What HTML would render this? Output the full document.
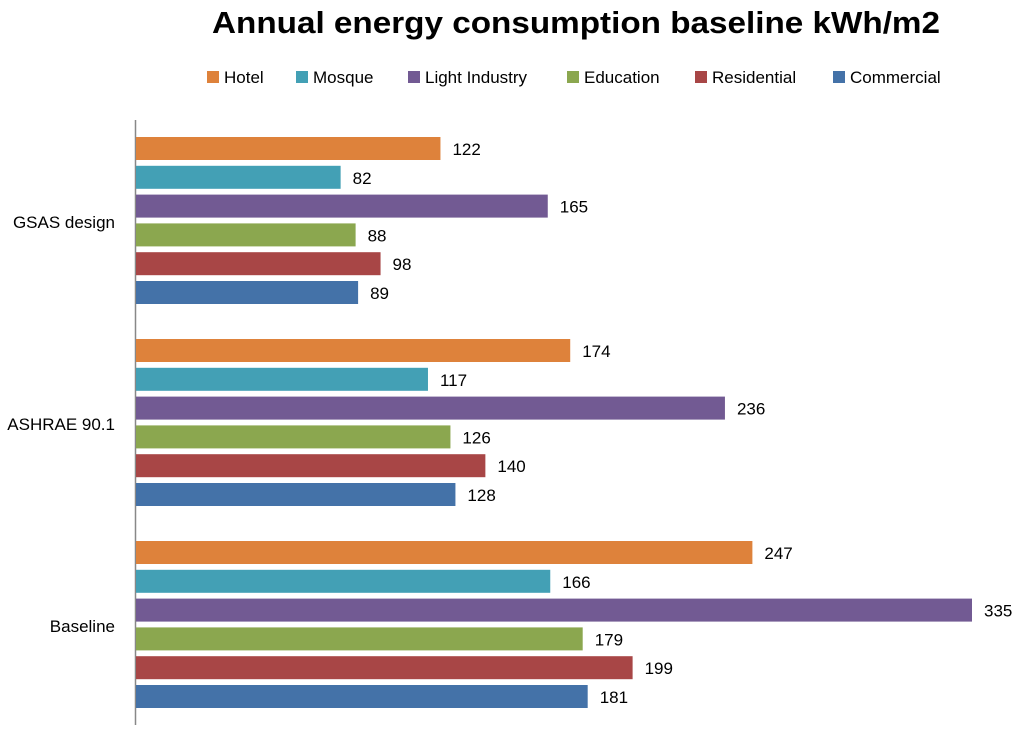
<!DOCTYPE html>
<html><head><meta charset="utf-8"><style>
body{margin:0;background:#fff;width:1024px;height:731px;overflow:hidden}
svg{font-family:"Liberation Sans",sans-serif}
</style></head><body>
<svg id="c" width="1024" height="731">
<text x="576" y="33" text-anchor="middle" font-size="31" font-weight="bold" textLength="728" lengthAdjust="spacingAndGlyphs">Annual energy consumption baseline kWh/m2</text>
<line x1="135.5" y1="120" x2="135.5" y2="725" stroke="#888" stroke-width="1.5"/>
<g id="legend"></g><g id="bars"></g>
</svg>
<script>
const categories = ["GSAS design","ASHRAE 90.1","Baseline"];
const seriesNames = ["Hotel","Mosque","Light Industry","Education","Residential","Commercial"];
const hotel = [122,174,247];
const mosque = [82,117,166];
const lightIndustry = [165,236,335];
const education = [88,126,179];
const residential = [98,140,199];
const commercial = [89,128,181];
const colors = ["#DE823B","#43A0B5","#725A93","#8BA74F","#A84646","#4472A8"];
const series = [hotel,mosque,lightIndustry,education,residential,commercial];
const NS="http://www.w3.org/2000/svg";
const x0=136, scale=(972-136)/335;
const xs=v=>x0+v*scale;
const groupTop=i=>137+i*202;
const barY=(g,s)=>groupTop(g)+s*28.8;
const bars=document.getElementById('bars');
function mk(tag,attrs,parent){const e=document.createElementNS(NS,tag);for(const k in attrs)e.setAttribute(k,attrs[k]);parent.appendChild(e);return e;}
categories.forEach((c,g)=>{
  const t=mk('text',{x:115,y:groupTop(g)+84+7,'text-anchor':'end','font-size':17},bars);
  t.textContent=c;
  
  
  series.forEach((arr,s)=>{
    const y=barY(g,s);
    const r=mk('rect',{x:x0,y:y,width:xs(arr[g])-x0,height:23,fill:colors[s]},bars);
    
    
    const l=mk('text',{x:xs(arr[g])+12,y:y+18,'font-size':17},bars);
    l.textContent=arr[g];
    
    
  });
});
const legend=document.getElementById('legend');
const lx=[207,296,408,567,695,833];
seriesNames.forEach((n,i)=>{
  const r=mk('rect',{x:lx[i],y:71,width:12,height:12,fill:colors[i]},legend);
  
  
  const t=mk('text',{x:lx[i]+17,y:83,'font-size':17},legend);
  t.textContent=n;
  
  
});
</script>
</body></html>
